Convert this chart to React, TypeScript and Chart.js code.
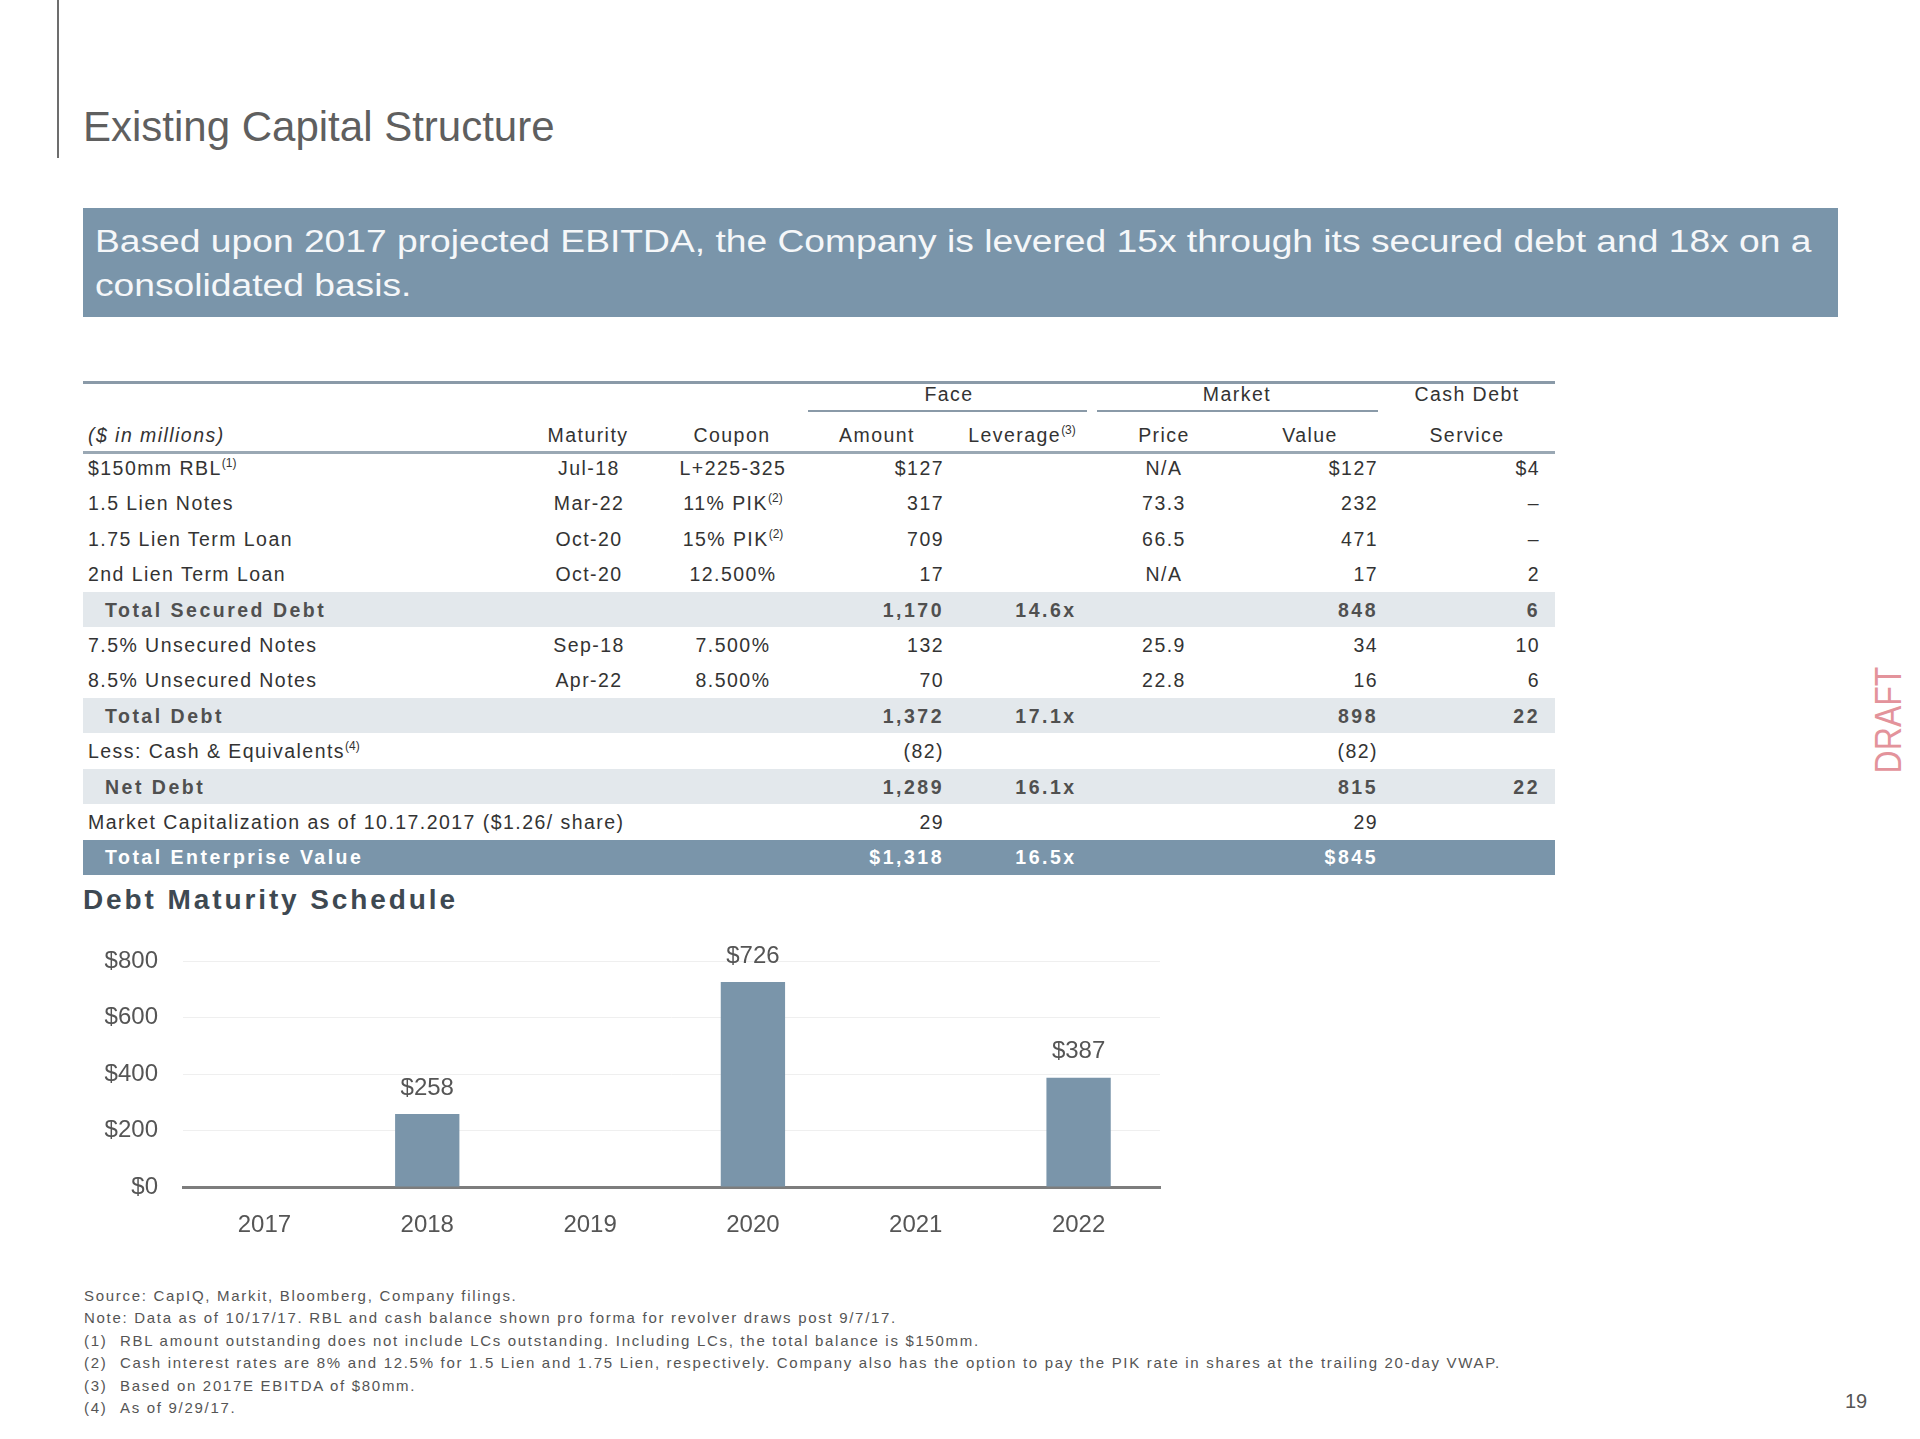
import React, { useEffect, useRef } from "react";
import { Chart, registerables } from "chart.js";

Chart.register(...registerables);

// ---------- Chart data ----------
const years = ["2017", "2018", "2019", "2020", "2021", "2022"];
const maturityAmounts = [0, 258, 0, 726, 0, 387];
const yAxisMax = 800;
const yAxisStep = 200;

// ---------- Table data ----------
const instruments = [
  "$150mm RBL",
  "1.5 Lien Notes",
  "1.75 Lien Term Loan",
  "2nd Lien Term Loan",
  "Total Secured Debt",
  "7.5% Unsecured Notes",
  "8.5% Unsecured Notes",
  "Total Debt",
  "Less: Cash & Equivalents",
  "Net Debt",
  "Market Capitalization as of 10.17.2017 ($1.26/ share)",
  "Total Enterprise Value",
];
const instrumentNotes = ["(1)", "", "", "", "", "", "", "", "(4)", "", "", ""];
const rowTypes = ["item", "item", "item", "item", "subtotal", "item", "item", "subtotal", "item", "subtotal", "item", "total"];
const maturityDates = ["Jul-18", "Mar-22", "Oct-20", "Oct-20", "", "Sep-18", "Apr-22", "", "", "", "", ""];
const coupons = ["L+225-325", "11% PIK", "15% PIK", "12.500%", "", "7.500%", "8.500%", "", "", "", "", ""];
const couponNotes = ["", "(2)", "(2)", "", "", "", "", "", "", "", "", ""];
const faceAmounts = [127, 317, 709, 17, 1170, 132, 70, 1372, -82, 1289, 29, 1318];
const faceLeverage = [null, null, null, null, 14.6, null, null, 17.1, null, 16.1, null, 16.5];
const marketPrices = ["N/A", "73.3", "66.5", "N/A", "", "25.9", "22.8", "", "", "", "", ""];
const marketValues = [127, 232, 471, 17, 848, 34, 16, 898, -82, 815, 29, 845];
const cashDebtService = [4, 0, 0, 2, 6, 10, 6, 22, null, 22, null, null];
const dollarRows = [0, 11];

const footnotes = [
  ["", "Source: CapIQ, Markit, Bloomberg, Company filings."],
  ["", "Note: Data as of 10/17/17. RBL and cash balance shown pro forma for revolver draws post 9/7/17."],
  ["(1)", "RBL amount outstanding does not include LCs outstanding. Including LCs, the total balance is $150mm."],
  ["(2)", "Cash interest rates are 8% and 12.5% for 1.5 Lien and 1.75 Lien, respectively. Company also has the option to pay the PIK rate in shares at the trailing 20-day VWAP."],
  ["(3)", "Based on 2017E EBITDA of $80mm."],
  ["(4)", "As of 9/29/17."],
];

const SLATE = "#7a95aa";
const BAND = "#e3e8ec";
const FONT = "'Liberation Sans', Arial, Helvetica, sans-serif";

function fmtMoney(v: number | null, i: number): string {
  if (v === null || v === undefined) return "";
  const s = Math.abs(v).toLocaleString("en-US");
  const d = dollarRows.includes(i) ? "$" : "";
  return v < 0 ? `(${d}${s})` : `${d}${s}`;
}
function fmtService(v: number | null, i: number): string {
  if (v === null || v === undefined) return "";
  if (v === 0) return "\u2013";
  return (dollarRows.includes(i) ? "$" : "") + v;
}

type Align = "left" | "right" | "center";
function Txt(props: { x: number; y: number; align?: Align; h?: number; style?: React.CSSProperties; children?: React.ReactNode }) {
  const { x, y, align = "left", h = 36, style, children } = props;
  const base: React.CSSProperties = {
    position: "absolute",
    top: y - h / 2,
    height: h,
    lineHeight: `${h}px`,
    whiteSpace: "nowrap",
  };
  if (align === "left") base.left = x;
  else if (align === "right") base.right = 1920 - x;
  else {
    base.left = x;
    base.transform = "translateX(-50%)";
  }
  return <div style={{ ...base, ...style }}>{children}</div>;
}

const Sup = ({ t }: { t: string }) => (
  <span style={{ fontSize: 12, verticalAlign: "8px", lineHeight: 0, letterSpacing: 0 }}>{t}</span>
);

function DebtChart() {
  const ref = useRef<HTMLCanvasElement>(null);
  useEffect(() => {
    if (!ref.current) return;
    const valueLabels = {
      id: "valueLabels",
      afterDatasetsDraw(chart: any) {
        const ctx = chart.ctx;
        const meta = chart.getDatasetMeta(0);
        ctx.save();
        ctx.font = `24px ${FONT}`;
        ctx.fillStyle = "#555555";
        ctx.textAlign = "center";
        ctx.textBaseline = "middle";
        meta.data.forEach((el: any, i: number) => {
          const v = maturityAmounts[i];
          if (v > 0) ctx.fillText("$" + v, el.x, el.y - 26);
        });
        ctx.restore();
      },
    };
    const chart = new Chart(ref.current, {
      type: "bar",
      data: {
        labels: years,
        datasets: [
          {
            data: maturityAmounts,
            backgroundColor: SLATE,
            borderWidth: 0,
            barPercentage: 1,
            categoryPercentage: 0.395,
          },
        ],
      },
      options: {
        animation: false,
        responsive: false,
        devicePixelRatio: 1,
        layout: { padding: { top: 41, right: 30, left: 0, bottom: 0 } },
        plugins: { legend: { display: false }, tooltip: { enabled: false } },
        scales: {
          x: {
            grid: { display: false, drawTicks: false },
            border: { display: true, color: "#7d7d7d", width: 3 },
            ticks: { padding: 24, color: "#555555", font: { size: 24, family: FONT } },
            afterFit: (s: any) => {
              s.height = 60;
            },
          },
          y: {
            min: 0,
            max: yAxisMax,
            ticks: {
              stepSize: yAxisStep,
              padding: 25,
              color: "#555555",
              font: { size: 24, family: FONT },
              callback: (v: any) => "$" + v,
            },
            grid: { color: "#efefef", lineWidth: 1, drawTicks: false },
            border: { display: false },
            afterFit: (s: any) => {
              s.width = 93;
            },
          },
        },
      },
      plugins: [valueLabels],
    } as any);
    return () => chart.destroy();
  }, []);
  return (
    <canvas
      ref={ref}
      width={1100}
      height={327}
      style={{ position: "absolute", left: 90, top: 920, width: 1100, height: 327 }}
    />
  );
}

export default function App() {
  const ROW_Y0 = 468;
  const ROW_H = 35.4;
  const reg: React.CSSProperties = { fontSize: 19.5, letterSpacing: 1.45, color: "#333" };
  const boldS: React.CSSProperties = { fontSize: 19.5, fontWeight: "bold", letterSpacing: 2.5, color: "#505050" };

  return (
    <div
      style={{
        position: "absolute",
        left: 0,
        top: 0,
        width: 1920,
        height: 1439,
        background: "#fff",
        fontFamily: FONT,
        overflow: "hidden",
      }}
    >
      {/* left accent line */}
      <div style={{ position: "absolute", left: 57, top: 0, width: 2, height: 158, background: "#6d6d6d" }} />
      {/* title */}
      <Txt x={83} y={127} h={44} style={{ fontSize: 42, color: "#5f5f5f" }}>
        Existing Capital Structure
      </Txt>
      {/* banner */}
      <div style={{ position: "absolute", left: 83, top: 208, width: 1755, height: 109, background: SLATE }} />
      <Txt x={95} y={242} h={40} style={{ fontSize: 31, color: "#f5f7f9", transform: "scaleX(1.2)", transformOrigin: "left center" }}>
        Based upon 2017 projected EBITDA, the Company is levered 15x through its secured debt and 18x on a
      </Txt>
      <Txt x={95} y={286} h={40} style={{ fontSize: 31, color: "#f5f7f9", transform: "scaleX(1.2)", transformOrigin: "left center" }}>
        consolidated basis.
      </Txt>

      {/* table rules */}
      <div style={{ position: "absolute", left: 83, top: 381, width: 1472, height: 3, background: "#8a9aa8" }} />
      <div style={{ position: "absolute", left: 808, top: 410, width: 279, height: 2, background: "#8a9aa8" }} />
      <div style={{ position: "absolute", left: 1097, top: 410, width: 281, height: 2, background: "#8a9aa8" }} />
      <div style={{ position: "absolute", left: 83, top: 451, width: 1472, height: 3, background: "#9aa8b4" }} />

      {/* header row 1 */}
      <Txt x={949} y={394} align="center" style={reg}>Face</Txt>
      <Txt x={1237} y={394} align="center" style={reg}>Market</Txt>
      <Txt x={1467} y={394} align="center" style={reg}>Cash Debt</Txt>
      {/* header row 2 */}
      <Txt x={88} y={435} style={{ ...reg, fontStyle: "italic" }}>($ in millions)</Txt>
      <Txt x={588} y={435} align="center" style={reg}>Maturity</Txt>
      <Txt x={732} y={435} align="center" style={reg}>Coupon</Txt>
      <Txt x={877} y={435} align="center" style={reg}>Amount</Txt>
      <Txt x={1022} y={435} align="center" style={reg}>
        Leverage<Sup t="(3)" />
      </Txt>
      <Txt x={1164} y={435} align="center" style={reg}>Price</Txt>
      <Txt x={1310} y={435} align="center" style={reg}>Value</Txt>
      <Txt x={1467} y={435} align="center" style={reg}>Service</Txt>

      {/* body rows */}
      {instruments.map((name, i) => {
        const y = ROW_Y0 + i * ROW_H;
        const kind = rowTypes[i];
        const isBold = kind !== "item";
        const st: React.CSSProperties = kind === "total" ? { ...boldS, color: "#ffffff" } : isBold ? boldS : reg;
        const lev = faceLeverage[i];
        return (
          <React.Fragment key={i}>
            {isBold && (
              <div
                style={{
                  position: "absolute",
                  left: 83,
                  top: y - ROW_H / 2,
                  width: 1472,
                  height: ROW_H,
                  background: kind === "total" ? SLATE : BAND,
                }}
              />
            )}
            <Txt x={isBold ? 105 : 88} y={y} style={st}>
              {name}
              {instrumentNotes[i] && <Sup t={instrumentNotes[i]} />}
            </Txt>
            <Txt x={589} y={y} align="center" style={st}>{maturityDates[i]}</Txt>
            <Txt x={733} y={y} align="center" style={st}>
              {coupons[i]}
              {couponNotes[i] && <Sup t={couponNotes[i]} />}
            </Txt>
            <Txt x={944} y={y} align="right" style={st}>{fmtMoney(faceAmounts[i], i)}</Txt>
            <Txt x={1046} y={y} align="center" style={st}>{lev === null ? "" : lev.toFixed(1) + "x"}</Txt>
            <Txt x={1164} y={y} align="center" style={st}>{marketPrices[i]}</Txt>
            <Txt x={1378} y={y} align="right" style={st}>{fmtMoney(marketValues[i], i)}</Txt>
            <Txt x={1540} y={y} align="right" style={st}>{fmtService(cashDebtService[i], i)}</Txt>
          </React.Fragment>
        );
      })}

      {/* chart heading */}
      <Txt x={83} y={900} style={{ fontSize: 28, fontWeight: "bold", letterSpacing: 2.9, color: "#3e4952" }}>
        Debt Maturity Schedule
      </Txt>
      <DebtChart />

      {/* footnotes */}
      {footnotes.map(([num, text], i) => {
        const y = 1296 + i * 22.4;
        const fs: React.CSSProperties = { fontSize: 15, letterSpacing: 1.7, color: "#555" };
        return (
          <React.Fragment key={"f" + i}>
            {num ? (
              <>
                <Txt x={84} y={y} h={20} style={fs}>{num}</Txt>
                <Txt x={120} y={y} h={20} style={fs}>{text}</Txt>
              </>
            ) : (
              <Txt x={84} y={y} h={20} style={fs}>{text}</Txt>
            )}
          </React.Fragment>
        );
      })}

      {/* DRAFT stamp */}
      <div
        style={{
          position: "absolute",
          left: 1889,
          top: 720,
          transform: "translate(-50%, -50%) rotate(-90deg) scaleX(0.89)",
          fontSize: 36,
          color: "#e3939b",
          whiteSpace: "nowrap",
          lineHeight: "36px",
        }}
      >
        DRAFT
      </div>
      {/* page number */}
      <Txt x={1856} y={1401} align="center" h={24} style={{ fontSize: 20, color: "#555" }}>19</Txt>
    </div>
  );
}
